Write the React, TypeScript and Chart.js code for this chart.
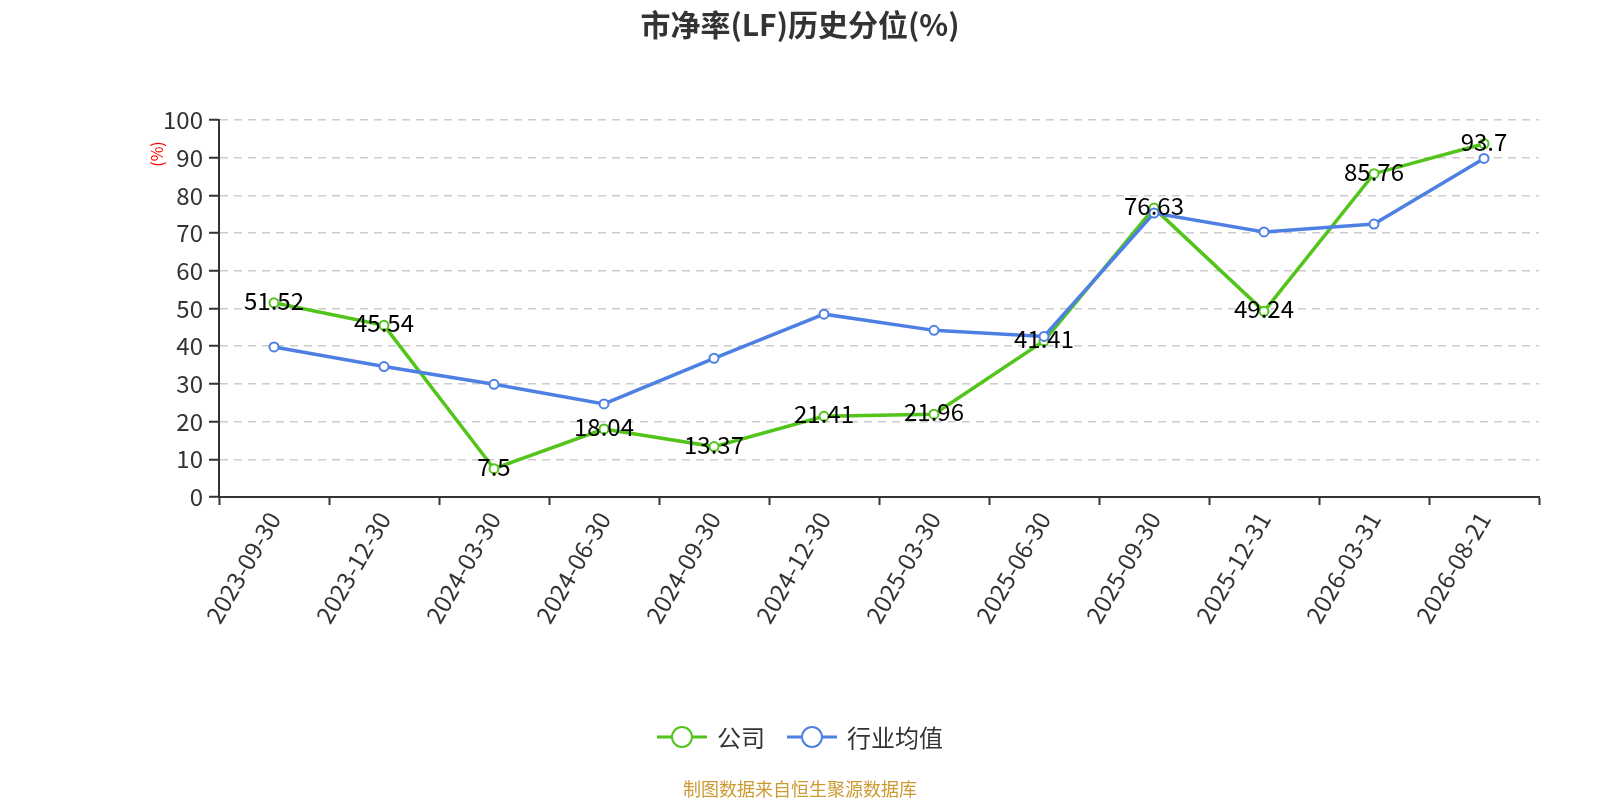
import { useEffect, useRef } from "react";
import { Chart, registerables } from "chart.js";

Chart.register(...registerables);

const FONT = '"Noto Sans CJK SC", "Noto Sans", sans-serif';

// Chart data
const dates = [
  "2023-09-30",
  "2023-12-30",
  "2024-03-30",
  "2024-06-30",
  "2024-09-30",
  "2024-12-30",
  "2025-03-30",
  "2025-06-30",
  "2025-09-30",
  "2025-12-31",
  "2026-03-31",
  "2026-08-21",
];
const companyValues = [51.52, 45.54, 7.5, 18.04, 13.37, 21.41, 21.96, 41.41, 76.63, 49.24, 85.76, 93.7];
const industryValues = [39.8, 34.6, 29.9, 24.7, 36.8, 48.5, 44.2, 42.6, 75.3, 70.3, 72.4, 89.8];

const GREEN = "#52c41a";
const BLUE = "#4e80e3";

// draws the value labels of the company line and the "(%)" axis name
const labelPlugin = {
  id: "valueLabels",
  afterDatasetsDraw(chart: Chart) {
    const ctx = chart.ctx;
    const meta = chart.getDatasetMeta(0);
    ctx.save();
    ctx.font = `24px ${FONT}`;
    ctx.fillStyle = "#000";
    ctx.textAlign = "center";
    ctx.textBaseline = "middle";
    meta.data.forEach((pt: any, i: number) => {
      ctx.fillText(String(companyValues[i]), pt.x, pt.y - 2);
    });
    ctx.restore();

    ctx.save();
    ctx.translate(157, 154);
    ctx.rotate(-Math.PI / 2);
    ctx.font = `16px ${FONT}`;
    ctx.fillStyle = "#ff0000";
    ctx.textAlign = "center";
    ctx.textBaseline = "middle";
    ctx.fillText("(%)", 0, 0);
    ctx.restore();
  },
};

const LegendIcon = ({ color }: { color: string }) => (
  <svg width="50" height="24" viewBox="0 0 50 24" style={{ display: "block" }}>
    <line x1="0" y1="12" x2="50" y2="12" stroke={color} strokeWidth="3" />
    <circle cx="25" cy="12" r="10" fill="#fff" stroke={color} strokeWidth="2" />
  </svg>
);

const App = () => {
  const canvasRef = useRef<HTMLCanvasElement>(null);
  const chartRef = useRef<Chart | null>(null);

  useEffect(() => {
    if (!canvasRef.current) return;
    const ctx = canvasRef.current.getContext("2d");
    if (!ctx) return;

    chartRef.current = new Chart(ctx, {
      type: "line",
      data: {
        labels: dates,
        datasets: [
          {
            label: "公司",
            data: companyValues,
            borderColor: GREEN,
            backgroundColor: "#fff",
            borderWidth: 3.5,
            pointRadius: 4.5,
            pointBorderWidth: 2,
            pointBackgroundColor: "#fff",
            pointBorderColor: GREEN,
            tension: 0,
            order: 2,
          },
          {
            label: "行业均值",
            data: industryValues,
            borderColor: BLUE,
            backgroundColor: "#fff",
            borderWidth: 3.5,
            pointRadius: 4.5,
            pointBorderWidth: 2,
            pointBackgroundColor: "#fff",
            pointBorderColor: BLUE,
            tension: 0,
            order: 1,
          },
        ],
      },
      options: {
        responsive: false,
        animation: false,
        layout: { padding: { top: 120, right: 61, bottom: 0, left: 0 } },
        plugins: {
          legend: { display: false },
          title: { display: false },
          tooltip: { enabled: false },
        },
        scales: {
          x: {
            offset: true,
            afterFit: (s: any) => {
              s.height = 303;
            },
            grid: {
              offset: true,
              drawOnChartArea: false,
              drawTicks: true,
              tickLength: 8,
              tickColor: "#333",
              tickWidth: 2,
            },
            border: { display: true, color: "#333", width: 2 },
            ticks: {
              color: "#333",
              font: { size: 24, family: FONT },
              minRotation: 60,
              maxRotation: 60,
              padding: 2,
              autoSkip: false,
            },
          },
          y: {
            min: 0,
            max: 100,
            afterFit: (s: any) => {
              s.width = 219;
            },
            grid: {
              color: "#cccccc",
              lineWidth: 1.5,
              drawTicks: true,
              tickLength: 10,
              tickColor: "#333",
              tickWidth: 2,
              tickBorderDash: [],
            },
            border: { display: true, color: "#333", width: 2, dash: [8, 6] },
            ticks: {
              stepSize: 10,
              color: "#333",
              font: { size: 24, family: FONT },
              padding: 6,
            },
          },
        },
      },
      plugins: [labelPlugin],
    });

    return () => {
      if (chartRef.current) {
        chartRef.current.destroy();
        chartRef.current = null;
      }
    };
  }, []);

  return (
    <div
      style={{
        position: "fixed",
        left: 0,
        top: 0,
        width: 1600,
        height: 800,
        background: "#fff",
        fontFamily: FONT,
      }}
    >
      <canvas ref={canvasRef} width={1600} height={800} style={{ position: "absolute", left: 0, top: 0 }} />
      <div
        style={{
          position: "absolute",
          top: 4,
          left: 0,
          width: 1600,
          textAlign: "center",
          fontSize: 30,
          fontWeight: "bold",
          color: "#333",
          lineHeight: "38px",
        }}
      >
        市净率(LF)历史分位(%)
      </div>
      <div
        style={{
          position: "absolute",
          top: 722,
          left: 0,
          width: 1600,
          display: "flex",
          justifyContent: "center",
          alignItems: "center",
          fontSize: 24,
          color: "#333",
          lineHeight: "30px",
        }}
      >
        <LegendIcon color={GREEN} />
        <span style={{ marginLeft: 10, marginRight: 22 }}>公司</span>
        <LegendIcon color={BLUE} />
        <span style={{ marginLeft: 10 }}>行业均值</span>
      </div>
      <div
        style={{
          position: "absolute",
          top: 776,
          left: 0,
          width: 1600,
          textAlign: "center",
          fontSize: 18,
          color: "#cc9a33",
          lineHeight: "24px",
        }}
      >
        制图数据来自恒生聚源数据库
      </div>
    </div>
  );
};

export default App;
